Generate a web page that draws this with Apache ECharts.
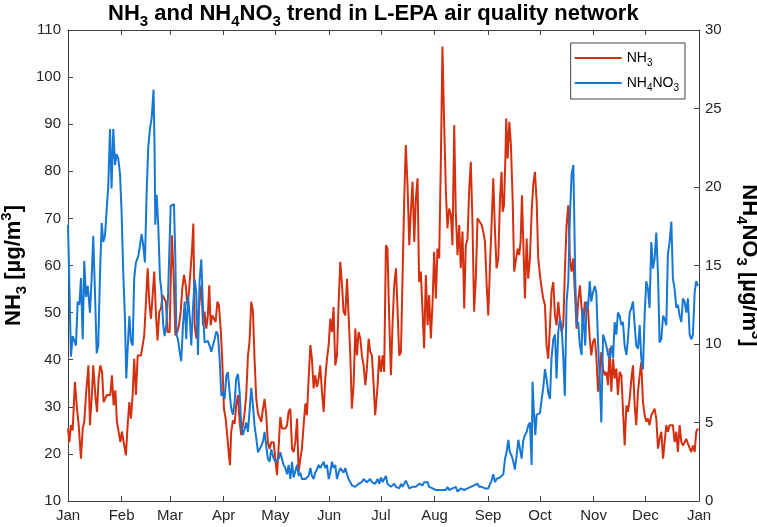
<!DOCTYPE html>
<html>
<head>
<meta charset="utf-8">
<script src="https://cdn.jsdelivr.net/npm/echarts@6/dist/echarts.min.js"></script>
<style>
  html, body { margin: 0; padding: 0; background: #fff; }
  #chart { width: 757px; height: 527px; }
</style>
</head>
<body>
<div id="chart"></div>
<script>
// month ticks (day of year) and their labels
const monthStarts = [0, 31, 59, 90, 120, 151, 181, 212, 243, 273, 304, 334, 365];
const monthNames = ['Jan', 'Feb', 'Mar', 'Apr', 'May', 'Jun', 'Jul', 'Aug', 'Sep', 'Oct', 'Nov', 'Dec', 'Jan'];

// NH3 [µg/m3], [day of year, value]
const nh3Points = [
  [0.0,25.4],[0.8,22.5],[1.7,26.1],[2.7,25.0],[4.0,35.3],[5.2,29.6],[6.2,26.1],[7.5,19.0],[8.5,25.4],[9.4,26.8],
  [10.4,32.5],[11.8,38.8],[12.7,26.1],[13.9,33.2],[14.6,38.8],[15.8,32.5],[16.8,28.9],[17.7,36.0],[18.7,38.8],[19.7,37.4],
  [20.6,31.0],[21.6,31.0],[22.5,32.5],[23.5,32.8],[24.5,32.5],[25.4,36.7],[26.4,30.3],[27.4,33.5],[28.3,26.8],[29.3,26.8],
  [30.3,22.5],[31.2,24.7],[32.2,22.5],[33.5,19.7],[34.5,26.1],[35.5,31.0],[36.4,27.5],[37.4,32.5],[38.3,40.2],[39.3,32.5],
  [40.3,40.9],[41.2,41.3],[42.2,40.9],[43.2,43.1],[44.1,45.2],[45.1,52.3],[46.1,59.4],[47.0,52.3],[48.0,48.7],[48.9,48.4],
  [49.9,58.7],[50.9,49.4],[51.8,44.1],[52.8,50.2],[53.8,50.9],[54.7,53.7],[55.7,53.7],[56.6,52.3],[57.6,45.9],
  [58.8,45.9],[59.4,56.5],[60.1,66.4],[61.1,58.0],[62.1,45.2],[63.2,45.9],[64.2,47.3],[65.2,50.2],[66.1,55.1],[67.1,58.0],
  [68.1,55.8],[69.0,51.6],[70.0,54.4],[70.9,54.4],[71.9,64.3],[72.5,68.9],[73.3,47.3],[74.2,44.5],[75.2,48.7],[76.1,52.3],
  [77.1,55.8],[78.1,47.3],[79.0,50.2],[80.0,46.6],[80.9,49.4],[81.7,55.8],[82.5,47.3],[83.5,49.4],[84.4,49.4],[85.4,48.0],
  [86.4,52.3],[87.3,51.6],[88.3,46.6],[89.2,40.2],[90.2,29.6],[91.2,27.5],[92.1,24.0],[93.1,19.7],[93.7,17.6],[94.4,24.7],
  [95.4,27.1],[96.4,26.4],[97.3,30.3],[98.3,32.5],[99.3,26.8],[100.2,24.0],[101.2,26.1],[102.2,28.9],[103.1,32.5],[104.1,40.9],
  [105.0,43.8],[106.0,52.3],[107.0,50.2],[107.9,40.2],[108.9,31.7],[109.9,28.6],[110.8,28.2],[111.8,26.8],[112.8,29.6],[113.7,31.7],
  [114.7,28.2],[115.6,22.5],[116.6,21.1],[117.6,22.5],
  [118.0,22.9],[119.0,22.5],[119.9,19.0],[120.9,15.5],[121.9,21.8],[122.8,27.8],[123.8,25.4],[124.7,25.0],[125.7,25.4],[126.7,26.1],
  [127.6,28.9],[128.6,29.6],[129.6,21.1],[130.5,20.4],[131.5,22.5],[132.5,27.5],[133.4,16.2],[134.4,19.0],[135.3,21.1],[136.3,26.1],
  [137.3,30.7],[138.2,28.2],[139.2,36.0],[140.2,43.1],[141.1,40.2],[142.1,33.9],[143.0,36.7],[144.0,34.2],[145.0,36.0],[145.9,38.8],
  [146.9,33.2],[147.9,28.9],[148.8,36.0],[149.8,40.2],[150.8,43.1],[151.7,48.7],[152.7,45.9],[153.6,51.2],[154.6,38.8],[155.6,40.9],
  [156.5,51.6],[157.5,60.8],[158.5,55.8],[159.4,50.2],[160.4,49.4],[161.4,57.2],[162.3,49.4],[163.3,40.9],[164.2,29.6],[165.2,34.6],
  [166.2,46.6],[167.1,40.9],[168.1,45.9],[169.1,44.5],[170.0,40.9],[171.0,38.8],[172.0,34.6],[172.9,38.1],[173.9,44.5],[174.8,41.7],
  [175.8,40.9],[176.8,34.6],[177.7,28.2],
  [179.1,34.6],[180.0,40.9],[181.0,37.4],[182.0,40.9],[182.9,37.4],[183.9,64.3],[184.8,63.6],[185.8,48.7],[186.8,36.7],[187.7,47.3],
  [188.7,55.8],[189.7,59.4],[190.6,50.9],[191.6,40.9],[192.6,41.6],[193.5,57.2],[194.5,74.2],[195.4,85.6],[196.4,77.1],[197.4,64.3],
  [198.3,71.4],[199.3,77.8],[200.3,65.0],[201.2,74.2],[202.2,78.5],[203.1,56.5],[204.1,58.7],[205.1,50.2],[206.0,42.4],[207.0,58.0],
  [208.0,47.3],[208.9,53.7],[209.9,44.5],[210.9,52.3],[211.8,62.9],[212.8,53.0],[213.7,63.6],[214.7,61.5],[215.7,82.7],[216.6,106.5],
  [217.6,89.8],[218.6,75.6],[219.5,67.9],[220.5,72.1],[221.5,70.7],[222.4,64.3],[223.4,89.8],[224.3,71.4],[225.3,62.2],[226.3,68.6],
  [227.2,59.4],[228.2,67.2],[229.2,50.9],[230.1,64.3],[231.1,65.7],[232.1,76.4],[233.0,82.0],[234.0,68.6],[234.9,50.2],[235.9,57.2],
  [236.9,70.0],[237.8,70.0],
  [239.3,68.6],[240.2,67.2],[241.2,65.0],[242.2,55.8],[243.1,49.4],[244.1,60.1],[245.0,68.6],[246.0,78.5],[247.0,67.2],[247.9,59.4],
  [248.9,61.5],[249.9,74.2],[250.8,79.9],[251.4,71.4],[252.2,72.8],[253.0,82.7],[253.5,91.2],[254.3,82.7],[255.3,90.5],[256.2,85.6],
  [257.2,74.2],[258.1,58.7],[259.1,58.7],[260.1,63.6],[261.0,62.2],[261.8,65.0],[262.6,74.9],[263.3,65.7],[264.3,53.0],[265.3,65.7],
  [266.2,57.2],[267.2,61.5],[268.2,71.4],[269.1,77.1],[270.1,79.9],[271.1,73.5],[272.0,61.5],[273.0,58.0],[274.0,55.1],[274.9,53.0],
  [275.9,51.6],[276.8,43.1],[277.8,40.2],[278.8,47.3],[279.7,54.4],[280.7,56.5],[281.7,49.4],[282.6,47.3],[283.6,52.3],[284.5,48.7],
  [285.5,45.9],[286.5,47.3],[287.4,58.7],[288.4,68.6],[289.4,72.8],[290.3,61.5],[291.3,58.7],[292.3,61.5],[293.2,54.4],[294.2,46.6],
  [295.1,52.3],[296.1,55.8],[297.1,50.9],[298.0,47.3],[299.0,52.3],[300.0,50.2],
  [300.8,50.9],[301.8,44.5],[302.7,40.9],[303.7,43.8],[304.7,44.5],[305.6,40.9],[306.6,33.2],[307.5,36.7],[308.5,41.6],[309.5,38.1],
  [310.4,36.7],[311.4,37.4],[312.4,34.6],[313.3,42.4],[314.3,33.2],[315.3,40.2],[316.2,36.0],[317.2,38.1],[318.1,32.5],[319.1,37.4],
  [320.1,36.7],[321.0,29.6],[322.0,21.8],[323.0,30.3],[323.9,28.9],[324.9,31.7],[325.9,36.0],[326.8,38.8],[327.8,30.3],[328.7,26.1],
  [329.7,33.2],[330.7,36.7],[331.6,39.5],[332.6,31.0],[333.6,28.2],[334.5,26.8],[335.5,27.5],[336.4,26.1],[337.4,28.2],[338.4,28.9],
  [339.3,29.6],[340.3,27.5],[341.3,21.1],[342.2,23.2],[343.2,24.7],[344.2,19.0],[345.1,22.5],[346.1,26.1],[347.0,24.7],[348.0,26.1],
  [349.0,25.7],[349.9,26.1],[350.9,22.5],[351.9,24.7],[352.8,20.4],[353.8,26.1],[354.8,22.5],[355.7,21.8],[356.7,22.5],[357.6,23.2],
  [358.6,22.2],[359.6,22.5],[360.5,20.4],[361.5,21.8],[362.5,20.4],[363.4,24.7],[364.4,25.4]
];

// NH4NO3 [µg/m3], [day of year, value]
const nh4Points = [
  [0.0,17.6],[1.7,9.2],[2.7,10.5],[3.7,10.2],[4.6,9.9],[5.6,12.7],[6.6,12.5],[7.5,14.2],[8.5,10.3],[9.4,15.3],
  [10.4,13.0],[11.4,13.7],[12.7,12.0],[13.7,14.2],[14.6,16.9],[15.6,13.3],[16.6,9.4],[17.5,9.9],[18.5,14.4],[19.5,17.7],
  [20.4,16.5],[21.4,16.9],[22.4,18.6],[23.3,20.1],[24.3,23.7],[25.2,19.9],[26.2,23.7],[27.2,21.4],[28.1,22.1],[29.1,21.8],
  [30.1,20.8],[31.0,18.4],[32.0,14.4],[32.9,11.8],[33.7,7.8],[34.7,10.1],[35.5,11.8],[36.4,10.2],[37.4,9.9],[38.3,14.2],
  [39.3,15.2],[40.7,15.6],[41.6,15.7],[42.6,17.0],[43.5,16.3],[44.5,15.2],[45.5,19.7],[46.4,22.5],[47.4,23.7],[48.4,24.4],
  [49.5,26.2],[50.1,22.2],[50.5,17.6],[51.3,19.5],[52.2,17.6],[53.2,14.2],[54.1,13.3],[55.1,11.2],[55.9,10.5],[56.8,11.2],
  [57.8,12.9],
  [59.4,18.8],[60.1,18.7],[61.3,18.9],[62.1,15.4],[62.7,10.6],[63.6,10.3],[64.6,9.5],[65.5,8.9],[66.5,11.2],[67.5,12.7],
  [68.4,10.3],[69.4,13.1],[70.4,11.8],[71.3,9.9],[72.3,12.3],[73.3,14.1],[74.2,13.3],[75.2,9.3],[76.1,14.0],[77.1,15.4],
  [78.1,12.3],[79.0,10.1],[80.0,10.1],[80.9,10.2],[81.9,9.9],[82.9,9.5],[83.8,9.9],[84.8,10.3],[85.8,10.8],[86.7,10.6],
  [87.7,9.1],[88.7,6.7],[89.6,6.9],[90.6,6.5],[91.6,8.0],[92.5,8.2],[93.5,6.9],[94.4,5.9],[95.4,5.5],[96.4,6.3],
  [97.3,7.8],[98.3,8.1],[99.3,6.9],[100.2,4.8],[101.2,4.2],[102.2,4.6],[103.1,5.0],[104.1,4.4],[105.0,5.7],[106.0,7.2],
  [107.0,6.1],[107.9,4.8],[108.9,4.0],[109.9,3.1],[110.8,3.3],[111.8,3.5],[112.8,3.8],[113.7,4.4],[114.7,3.5],[115.6,2.7],
  [116.6,2.5],[117.6,3.3],
  [118.0,3.1],[119.0,2.7],[119.9,2.5],[120.9,2.6],[121.9,2.7],[122.8,3.1],[123.8,3.0],[124.7,2.3],[125.7,2.1],[126.7,1.7],
  [127.6,2.3],[128.6,1.4],[129.6,2.5],[130.5,1.5],[131.5,1.4],[132.5,2.3],[133.4,1.6],[134.4,1.8],[135.3,1.4],[136.3,1.3],
  [137.3,1.4],[138.2,1.5],[139.2,1.6],[140.2,2.1],[141.1,1.6],[142.1,1.4],[143.0,1.8],[144.0,2.0],[145.0,2.3],[145.9,2.1],
  [146.9,2.3],[147.9,2.5],[148.8,2.1],[149.8,2.3],[150.8,1.4],[151.7,1.8],[152.7,2.5],[153.6,2.1],[154.6,2.3],[155.6,1.4],
  [156.5,1.8],[157.5,2.1],[158.5,2.0],[159.4,1.8],[160.4,2.1],[161.4,1.7],[162.3,1.4],[163.3,1.2],[164.2,1.0],[165.2,1.1],
  [166.2,0.9],[167.1,1.0],[168.1,1.1],[169.1,1.0],[170.0,1.2],[171.0,1.4],[172.0,1.5],[172.9,1.2],[173.9,1.1],[174.8,1.4],
  [175.8,1.2],[176.8,1.3],[177.7,1.1],
  [179.1,1.4],[180.0,1.1],[181.0,1.5],[182.0,1.2],[182.9,1.4],[183.9,1.6],[184.8,1.1],[185.8,1.2],[186.8,0.9],[187.7,1.0],
  [188.7,1.1],[189.7,0.9],[190.6,1.0],[191.6,0.8],[192.6,1.1],[193.5,0.9],[194.5,1.1],[195.4,1.3],[196.4,1.4],[197.4,0.8],
  [198.3,0.7],[199.3,0.9],[200.3,0.8],[201.2,0.9],[202.2,1.0],[203.1,1.1],[204.1,1.0],[205.1,1.0],[206.0,1.2],[207.0,1.3],
  [208.0,1.2],[208.9,0.9],[209.9,0.8],[210.9,0.8],[211.8,0.7],[212.8,0.7],[213.7,0.7],[214.7,0.7],[215.7,0.8],[216.6,0.7],
  [217.6,0.8],[218.6,0.7],[219.5,0.9],[220.5,0.7],[221.5,0.6],[222.4,0.8],[223.4,0.7],[224.3,0.9],[225.3,0.6],[226.3,0.6],
  [227.2,0.8],[228.2,0.7],[229.2,0.7],[230.1,0.8],[231.1,0.8],[232.1,0.7],[233.0,0.9],[234.0,0.8],[234.9,1.0],[235.9,0.9],
  [236.9,1.1],[237.8,0.9],
  [239.3,0.9],[240.2,0.9],[241.2,0.8],[242.2,0.9],[243.1,0.8],[244.1,0.9],[245.0,1.3],[246.0,1.7],[247.0,1.2],[247.9,1.4],
  [248.9,1.3],[249.9,1.5],[250.8,1.6],[251.8,1.7],[252.8,2.7],[253.7,3.1],[254.7,3.9],[255.6,3.1],[256.6,2.9],[257.6,2.5],
  [258.5,2.0],[259.5,2.9],[260.5,3.9],[261.4,3.8],[262.4,2.7],[263.3,3.8],[264.3,4.2],[265.3,4.4],[266.2,4.8],[267.2,5.0],
  [268.2,2.3],[268.7,7.6],[269.5,5.7],[270.3,4.2],[271.1,5.5],[272.0,5.5],[273.0,5.6],[274.0,6.5],[274.9,7.2],[275.9,8.4],
  [276.8,7.8],[277.8,6.9],[278.8,6.5],[279.7,9.1],[280.7,10.3],[281.7,10.6],[282.6,7.8],[283.6,10.8],[284.5,11.6],[285.5,11.2],
  [286.5,9.1],[287.4,6.7],[288.4,12.7],[289.4,14.0],[290.3,18.0],[291.3,20.8],[292.3,21.4],[292.8,18.4],[293.4,14.2],[294.2,11.2],
  [295.1,11.4],[296.1,9.9],[297.1,9.3],[297.6,12.3],[298.4,11.2],[299.2,9.9],[300.0,12.7],
  [300.8,12.3],[301.8,14.0],[302.7,12.7],[303.7,13.3],[304.7,13.7],[305.6,13.3],[306.6,10.1],[307.5,8.0],[308.5,5.0],[309.5,10.6],
  [310.4,10.3],[311.4,9.9],[312.4,9.3],[313.3,9.1],[314.3,9.9],[315.3,9.1],[316.2,11.4],[317.2,10.6],[318.1,12.0],[319.1,11.8],
  [320.1,11.2],[321.0,11.4],[322.0,9.9],[323.0,9.3],[323.9,10.3],[324.9,12.0],[325.9,12.3],[326.8,12.7],[327.8,11.2],[328.7,9.9],
  [329.7,9.7],[330.7,11.2],[331.6,9.1],[332.6,8.4],[333.6,12.0],[334.5,14.0],[335.5,13.5],[336.4,12.3],[337.4,16.5],[338.4,14.8],
  [339.3,15.4],[340.3,17.1],[341.3,14.4],[342.2,10.1],[343.2,10.3],[344.2,11.8],[345.1,11.6],[346.1,11.2],[347.0,15.7],[348.0,16.5],
  [349.0,17.8],[349.9,14.2],[350.9,13.5],[351.9,12.3],[352.8,12.5],[353.8,11.8],[354.8,11.4],[355.7,12.9],[356.7,12.7],[357.6,12.0],
  [358.6,12.9],[359.6,10.6],[360.5,10.3],[361.5,10.6],[362.5,13.3],[363.4,14.0],[364.4,13.7]
];

const FONT = '"Liberation Sans", Arial, Helvetica, sans-serif';
const AXIS_COLOR = '#404040';
const TEXT_COLOR = '#262626';

// rich-text styles for sub/superscripts
function richStyles(size, weight, color, lineHeight) {
  const small = Math.round(size * 0.68);
  return {
    b: { fontSize: size, fontWeight: weight, fontFamily: FONT, color: color, lineHeight: lineHeight || size + 8 },
    s: { fontSize: small, fontWeight: weight, fontFamily: FONT, color: color, verticalAlign: 'bottom', lineHeight: small },
    p: { fontSize: small, fontWeight: weight, fontFamily: FONT, color: color, verticalAlign: 'top', lineHeight: small }
  };
}

const chart = echarts.init(document.getElementById('chart'), null, { renderer: 'canvas' });

const xTickStyle = { inside: true, length: 5, lineStyle: { color: AXIS_COLOR, width: 1 } };
const axisLine = { show: true, onZero: false, lineStyle: { color: AXIS_COLOR, width: 1 } };
const labelFont = { fontSize: 15, fontFamily: FONT, color: TEXT_COLOR };

chart.setOption({
  animation: false,
  backgroundColor: '#fff',
  title: {
    text: '{b|NH}{s|3}{b| and NH}{s|4}{b|NO}{s|3}{b| trend in L-EPA air quality network}',
    left: 103,
    top: -6,
    textStyle: { rich: richStyles(22, 'bold', '#000') }
  },
  legend: {
    data: ['NH3', 'NH4NO3'],
    orient: 'vertical',
    right: 72,
    top: 43,
    backgroundColor: '#fff',
    borderColor: AXIS_COLOR,
    borderWidth: 1,
    borderRadius: 0,
    padding: [8, 6, 6, 4],
    itemGap: 8,
    itemWidth: 47,
    itemHeight: 2,
    icon: 'rect',
    formatter: function (name) {
      return name === 'NH3' ? '{b|NH}{s|3}' : '{b|NH}{s|4}{b|NO}{s|3}';
    },
    textStyle: { rich: richStyles(14, 'normal', '#000', 20) }
  },
  grid: { left: 68, right: 58, top: 30, bottom: 26, containLabel: false, outerBoundsMode: 'none' },
  xAxis: [
    {
      type: 'value', min: 0, max: 365, position: 'bottom',
      axisLine: axisLine,
      axisTick: Object.assign({ customValues: monthStarts }, xTickStyle),
      axisLabel: Object.assign({
        customValues: monthStarts,
        margin: 7,
        formatter: function (v) { return monthNames[monthStarts.indexOf(v)]; }
      }, labelFont),
      splitLine: { show: false }
    },
    {
      type: 'value', min: 0, max: 365, position: 'top',
      axisLine: axisLine,
      axisTick: Object.assign({ customValues: monthStarts }, xTickStyle),
      axisLabel: { show: false },
      splitLine: { show: false }
    }
  ],
  yAxis: [
    {
      type: 'value', min: 10, max: 110, interval: 10, position: 'left',
      axisLine: axisLine,
      axisTick: { show: true, inside: true, length: 5, lineStyle: { color: AXIS_COLOR } },
      axisLabel: Object.assign({ margin: 7 }, labelFont),
      splitLine: { show: false },
      name: '{b|NH}{s|3}{b| [µg/m}{p|3}{b|]}',
      nameLocation: 'middle',
      nameRotate: 90,
      nameGap: 39,
      nameMoveOverlap: false,
      nameTextStyle: { rich: richStyles(22, 'bold', '#000') }
    },
    {
      type: 'value', min: 0, max: 30, interval: 5, position: 'right',
      axisLine: axisLine,
      axisTick: { show: true, inside: true, length: 5, lineStyle: { color: AXIS_COLOR } },
      axisLabel: Object.assign({ margin: 6 }, labelFont),
      splitLine: { show: false },
      name: '{b|NH}{s|4}{b|NO}{s|3}{b| [µg/m}{p|3}{b|]}',
      nameLocation: 'middle',
      nameRotate: -90,
      nameGap: 35,
      nameMoveOverlap: false,
      nameTextStyle: { rich: richStyles(22, 'bold', '#000') }
    }
  ],
  series: [
    {
      name: 'NH3', type: 'line', yAxisIndex: 0, xAxisIndex: 0,
      data: nh3Points,
      symbol: 'none', showSymbol: false,
      lineStyle: { color: '#D4300F', width: 2 },
      itemStyle: { color: '#D4300F' }
    },
    {
      name: 'NH4NO3', type: 'line', yAxisIndex: 1, xAxisIndex: 0,
      data: nh4Points,
      symbol: 'none', showSymbol: false,
      lineStyle: { color: '#1677D4', width: 2 },
      itemStyle: { color: '#1677D4' }
    }
  ]
});
</script>
</body>
</html>
